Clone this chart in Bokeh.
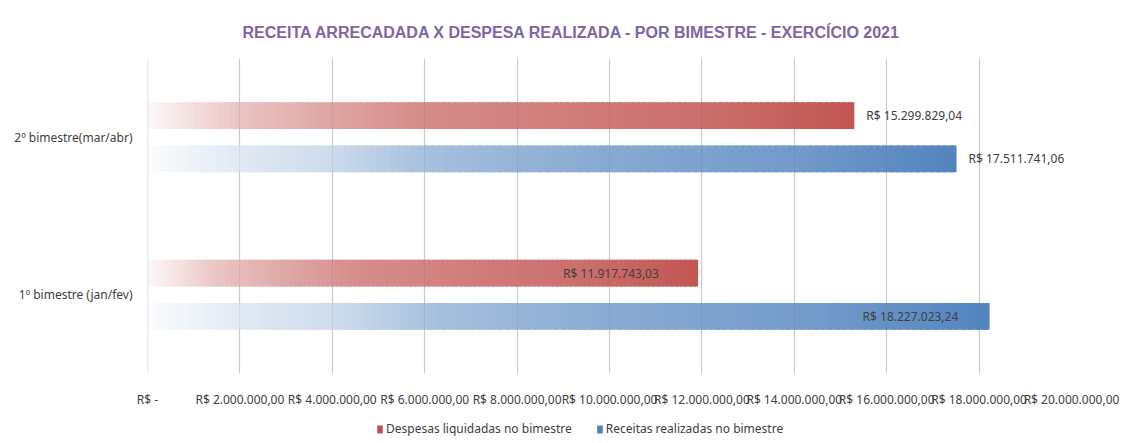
import numpy as np
from bokeh.plotting import figure
from bokeh.layouts import column
from bokeh.models import (ColumnDataSource, FactorRange, Range1d, FixedTicker,
                          Legend, LegendItem, Grid, LabelSet, Span)
from bokeh.transform import dodge
from bokeh.core.properties import value
from bokeh.embed import file_html
from bokeh.resources import INLINE

# ---------------- data ----------------
categories = ["1º bimestre (jan/fev)", "2º bimestre(mar/abr)"]
despesas = [11917743.03, 15299829.04]
receitas = [18227023.24, 17511741.06]
despesas_labels = ["R$ 11.917.743,03", "R$ 15.299.829,04"]
receitas_labels = ["R$ 18.227.023,24", "R$ 17.511.741,06"]
series_names = ["Despesas liquidadas no bimestre", "Receitas realizadas no bimestre"]
x_ticks = [0, 2e6, 4e6, 6e6, 8e6, 10e6, 12e6, 14e6, 16e6, 18e6, 20e6]
x_tick_labels = ["R$ -", "R$ 2.000.000,00", "R$ 4.000.000,00", "R$ 6.000.000,00",
                 "R$ 8.000.000,00", "R$ 10.000.000,00", "R$ 12.000.000,00",
                 "R$ 14.000.000,00", "R$ 16.000.000,00", "R$ 18.000.000,00",
                 "R$ 20.000.000,00"]
title_text = "RECEITA ARRECADADA X DESPESA REALIZADA - POR BIMESTRE - EXERCÍCIO 2021"

# ---------------- style ----------------
FONT = "Noto Sans"
FS = "12px"
TXT = "#404040"
RED = (192, 80, 77)
BLUE = (79, 129, 189)
red_stops = ([0, 0.13, 0.26, 0.39, 0.52, 0.65, 0.78, 1.0],
             [0.04, 0.34, 0.51, 0.66, 0.71, 0.77, 0.82, 0.97])
blue_stops = ([0, 0.11, 0.23, 0.34, 0.46, 0.57, 0.8, 1.0],
              [0.02, 0.17, 0.29, 0.50, 0.60, 0.68, 0.80, 0.98])
NSEG = 120
BAR_H = 0.17
OFF = 0.1375
red_label_offsets = [-135, 12]
blue_label_offsets = [-127, 12]


def hexcol(c):
    return "#%02x%02x%02x" % c


def gradient_segments(cats, vals, base, stops):
    ys, lefts, rights, colors = [], [], [], []
    for c, v in zip(cats, vals):
        step = v / NSEG
        for i in range(NSEG):
            f = (i + 0.5) / NSEG
            t = float(np.interp(f, stops[0], stops[1]))
            col = tuple(int(round(255 + (b - 255) * t)) for b in base)
            ys.append(c)
            lefts.append(i * step)
            rights.append(min(v, (i + 1.6) * step))
            colors.append(hexcol(col))
    return ColumnDataSource(dict(y=ys, left=lefts, right=rights, color=colors))


p = figure(width=1132, height=410,
           y_range=FactorRange(*categories), x_range=Range1d(0, 20e6),
           output_backend="svg", toolbar_location=None,
           min_border_left=147, min_border_right=61,
           min_border_top=58, min_border_bottom=32)
p.outline_line_color = None
p.background_fill_color = "white"
p.border_fill_color = "white"

# title
p.title.text = title_text
p.title.align = "left"
p.title.offset = 95
p.title.standoff = 36
p.title.text_font = "Liberation Sans"
p.title.text_font_style = "bold"
p.title.text_font_size = "16px"
p.title.text_color = "#8064A2"

# grid
p.ygrid.grid_line_color = None
p.xgrid.grid_line_color = "#D9D9D9"
p.xgrid.grid_line_width = 1.3
p.xaxis.ticker = FixedTicker(ticks=x_ticks)
p.xaxis.major_label_overrides = {t: l for t, l in zip(x_ticks, x_tick_labels)}
p.add_layout(Span(location=x_ticks[0], dimension="height",
                  line_color="#D9D9D9", line_width=1.5))

src_red = gradient_segments(categories, despesas, RED, red_stops)
src_blue = gradient_segments(categories, receitas, BLUE, blue_stops)

p.hbar(y=dodge("y", OFF, range=p.y_range), left="left", right="right",
       height=BAR_H, fill_color="color", line_color=None, source=src_red)
p.hbar(y=dodge("y", -OFF, range=p.y_range), left="left", right="right",
       height=BAR_H, fill_color="color", line_color=None, source=src_blue)

# faint gridlines visible through bars
p.add_layout(Grid(dimension=0, ticker=p.xaxis.ticker, level="overlay",
                  grid_line_color="#606060", grid_line_alpha=0.12))

# axes
for ax in (p.xaxis, p.yaxis):
    ax.axis_line_color = None
    ax.major_tick_line_color = None
    ax.minor_tick_line_color = None
    ax.major_label_text_font = FONT
    ax.major_label_text_font_size = FS
    ax.major_label_text_color = TXT
p.xaxis.major_label_standoff = 11
p.yaxis.major_label_standoff = 9

# value labels
lab_red = ColumnDataSource(dict(x=despesas, y=categories, text=despesas_labels,
                                xo=red_label_offsets))
lab_blue = ColumnDataSource(dict(x=receitas, y=categories, text=receitas_labels,
                                 xo=blue_label_offsets))
for src, off in ((lab_red, OFF), (lab_blue, -OFF)):
    p.add_layout(LabelSet(x="x", y=dodge("y", off, range=p.y_range), text="text",
                          x_offset="xo", source=src, text_align="left",
                          text_baseline="middle", text_font=value(FONT),
                          text_font_size=FS, text_color=TXT))

# legend strip below the chart (its frame aligns with the chart's frame)
pl = figure(width=1132, height=33, x_range=(0, 1), y_range=(0, 1),
            x_axis_type=None, y_axis_type=None,
            output_backend="svg", toolbar_location=None,
            min_border_left=0, min_border_right=0, min_border_top=0, min_border_bottom=0)
pl.outline_line_color = None
pl.border_fill_color = "white"
# legend key glyphs only (zero-size, nothing drawn in the strip itself)
lr = pl.hbar(y=[0.5], left=[0], right=[0], height=0, fill_color=hexcol(RED), line_color=None)
lb = pl.hbar(y=[0.5], left=[0], right=[0], height=0, fill_color=hexcol(BLUE), line_color=None)
legend = Legend(items=[LegendItem(label=series_names[0], renderers=[lr]),
                       LegendItem(label=series_names[1], renderers=[lb])],
                orientation="horizontal", location=(229, 6),
                glyph_width=7, glyph_height=10, label_standoff=3, spacing=24,
                padding=0, margin=0, border_line_color=None, background_fill_alpha=0,
                label_text_font=FONT, label_text_font_size=FS,
                label_text_color=TXT, label_height=14)
pl.add_layout(legend, "center")

open("out.html", "w").write(file_html(column(p, pl, spacing=0), INLINE))
